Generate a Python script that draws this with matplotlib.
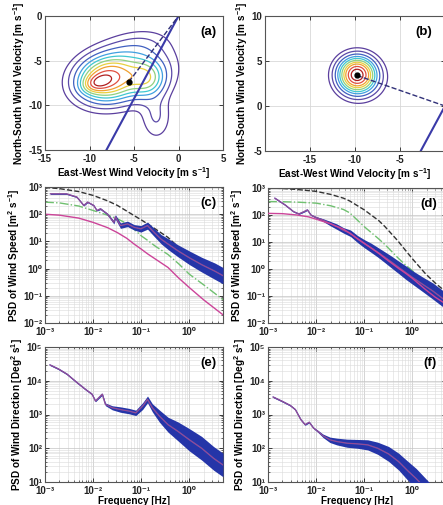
import numpy as np
import matplotlib.pyplot as plt
from matplotlib.ticker import LogLocator, NullFormatter, FuncFormatter

plt.rcParams['font.family'] = ['Liberation Sans', 'DejaVu Sans']
plt.rcParams['font.weight'] = 'bold'
plt.rcParams['axes.labelweight'] = 'bold'
plt.rcParams['axes.unicode_minus'] = False
plt.rcParams['mathtext.fontset'] = 'custom'
plt.rcParams['mathtext.rm'] = 'Liberation Sans:bold'
plt.rcParams['mathtext.bf'] = 'Liberation Sans:bold'
plt.rcParams['mathtext.it'] = 'Liberation Sans:bold'
plt.rcParams['mathtext.default'] = 'rm'

# ---------------- hodographs (a), (b) ----------------
# density blobs: centre, spread, tilt (deg), weight
a_x0 = [-9.2, -8.2, -3.5, -6.0, -2.5, -4.5]
a_y0 = [-7.5, -7.0, -7.0, -6.5, -11.3, -3.2]
a_sx = [1.0, 2.0, 1.3, 3.1, 1.1, 2.3]
a_sy = [0.6, 1.5, 1.3, 2.0, 1.7, 1.1]
a_tilt = [15, 10, 0, 15, 0, 10]
a_w = [0.25, 0.5, 0.28, 0.28, 0.09, 0.05]
a_mean = (-5.6, -7.4)

b_x0 = [-9.8, -9.3]
b_y0 = [3.5, 3.0]
b_sx = [1.25, 1.7]
b_sy = [1.2, 1.5]
b_tilt = [0, 0]
b_w = [1.0, 0.15]
b_mean = (-9.8, 3.4)

ridge_x = [-8.1, 0.0]
ridge_y = [-15.0, 0.0]

level_frac = [0.05, 0.1, 0.17, 0.25, 0.33, 0.42, 0.52, 0.62, 0.75, 0.88]
level_colors = ['#5b3f9e', '#5b4aa8', '#4060c0', '#40a0e0', '#40c8d0',
                '#90d080', '#e8d040', '#f0a030', '#e05040', '#b02020']

# ---------------- spectra (c)-(f) ----------------
c_f = [0.0013, 0.0028, 0.0046, 0.0064, 0.0077, 0.0103, 0.012, 0.0142, 0.0197, 0.027,
       0.029, 0.037, 0.052, 0.071, 0.098, 0.135, 0.188, 0.26, 0.36, 0.58, 1.0, 1.8, 3.4, 5.0]
c_psd = [560, 560, 427, 210, 278, 210, 137, 158, 102, 50,
         80, 38, 44, 33, 29, 38, 21, 12, 8, 4.5, 2.5, 1.4, 0.8, 0.55]
c_spread = [0.02, 0.02, 0.02, 0.02, 0.02, 0.02, 0.02, 0.03, 0.03, 0.06,
            0.08, 0.1, 0.1, 0.1, 0.12, 0.13, 0.15, 0.17, 0.2, 0.22, 0.25, 0.27, 0.3, 0.3]

d_f = [0.00139, 0.00227, 0.0034, 0.0044, 0.0056, 0.0066, 0.0078, 0.01, 0.0139, 0.0193,
       0.027, 0.037, 0.052, 0.072, 0.1, 0.139, 0.19, 0.27, 0.37, 0.52, 0.72, 1.0, 1.64, 2.7, 5.0]
d_psd = [420, 236, 133, 110, 133, 155, 100, 81, 65, 49,
         37, 27, 21, 13, 8.7, 6.1, 4.2, 2.7, 1.8, 1.15, 0.75, 0.49, 0.27, 0.15, 0.065]
d_spread = [0.02, 0.02, 0.02, 0.02, 0.02, 0.02, 0.02, 0.03, 0.05, 0.08,
            0.1, 0.1, 0.12, 0.13, 0.15, 0.17, 0.18, 0.2, 0.22, 0.23, 0.25, 0.25, 0.27, 0.3, 0.3]

e_f = [0.00127, 0.0019, 0.00285, 0.0046, 0.0069, 0.0095, 0.0112, 0.0155, 0.018, 0.025,
       0.037, 0.056, 0.077, 0.107, 0.135, 0.17, 0.24, 0.36, 0.58, 1.0, 1.8, 3.2, 5.0]
e_psd = [29500, 22400, 15800, 8900, 5600, 4000, 2500, 4000, 2000, 1580,
         1400, 1260, 1120, 1780, 2800, 1580, 890, 500, 316, 178, 100, 50, 32]
e_spread = [0.02, 0.02, 0.02, 0.02, 0.02, 0.02, 0.02, 0.03, 0.04, 0.06,
            0.08, 0.08, 0.08, 0.1, 0.1, 0.12, 0.18, 0.22, 0.28, 0.33, 0.35, 0.35, 0.35]

f_f = [0.00128, 0.00193, 0.0029, 0.0037, 0.0048, 0.0059, 0.0072, 0.0088, 0.0109, 0.0139,
       0.0193, 0.027, 0.044, 0.072, 0.118, 0.19, 0.32, 0.52, 0.79, 1.2, 1.9, 5.0]
f_psd = [3300, 2500, 1860, 1400, 710, 500, 590, 400, 316, 234,
         178, 158, 141, 135, 126, 100, 68, 40, 22, 12.6, 6.3, 1.4]
f_spread = [0.02, 0.02, 0.02, 0.02, 0.02, 0.02, 0.02, 0.02, 0.03, 0.05,
            0.08, 0.1, 0.12, 0.13, 0.15, 0.18, 0.22, 0.25, 0.28, 0.3, 0.3, 0.3]

# model spectra
c_mod_f = [0.001, 0.002, 0.005, 0.01, 0.02, 0.032, 0.05, 0.071, 0.1, 0.135, 0.2, 0.36, 0.6, 1.0, 2.0, 5.0]
c_black = [960, 870, 680, 490, 310, 210, 130, 89, 62, 44, 28, 14, 6, 2.6, 1.1, 0.4]
c_green = [277, 260, 200, 137, 92, 68, 45, 28, 16, 11, 6.5, 3.3, 1.5, 0.62, 0.25, 0.072]
c_mag = [100, 92, 72, 50, 32, 21, 13, 8, 5.2, 3.5, 2.2, 1.1, 0.45, 0.2, 0.07, 0.02]

d_mod_f = [0.001, 0.002, 0.004, 0.007, 0.01, 0.02, 0.037, 0.05, 0.1, 0.2, 0.27, 0.5, 0.72, 1.0, 1.9, 3.0, 5.0]
d_black = [1000, 960, 880, 800, 750, 580, 420, 330, 155, 62, 37, 11, 4.9, 2.4, 0.65, 0.3, 0.14]
d_green = [316, 310, 300, 285, 275, 220, 160, 120, 37, 13, 8, 2.6, 1.4, 0.87, 0.25, 0.12, 0.06]
d_mag = [115, 112, 100, 85, 70, 47, 30, 21, 9, 3.8, 2.5, 1.1, 0.7, 0.45, 0.17, 0.09, 0.05]

LABEL_FS = 7.2
SUP = str.maketrans('-0123456789', '⁻⁰¹²³⁴⁵⁶⁷⁸⁹')


def pow10(v, pos):
    return '10' + str(int(round(np.log10(v)))).translate(SUP)


def density(xx, yy, x0, y0, sx, sy, tilt, w):
    z = np.zeros_like(xx)
    for i in range(len(x0)):
        t = np.deg2rad(tilt[i])
        dx, dy = xx - x0[i], yy - y0[i]
        u = np.cos(t) * dx + np.sin(t) * dy
        v = -np.sin(t) * dx + np.cos(t) * dy
        z += w[i] * np.exp(-0.5 * ((u / sx[i]) ** 2 + (v / sy[i]) ** 2))
    return z / z.max()


W, H = 443, 505
fig = plt.figure(figsize=(W / 100, H / 100), dpi=100)


def add_ax(l, t, w, h):
    return fig.add_axes([l / W, 1 - (t + h) / H, w / W, h / H])


def style(ax):
    ax.tick_params(direction='in', length=3, width=0.6, top=True, right=True,
                   labelsize=7, pad=2, colors='#222222')
    ax.tick_params(axis='x', pad=3)
    ax.tick_params(which='minor', direction='in', length=1.5, width=0.4, top=True, right=True)
    for s in ax.spines.values():
        s.set_color('#555555')
        s.set_linewidth(0.8)


def hodo(ax, x0, y0, sx, sy, tilt, w, mean, xr, yr):
    xg = np.linspace(xr[0] - 1, xr[1] + 1, 300)
    yg = np.linspace(yr[0] - 1, yr[1] + 1, 300)
    xx, yy = np.meshgrid(xg, yg)
    z = density(xx, yy, x0, y0, sx, sy, tilt, w)
    ax.contour(xx, yy, z, levels=level_frac, colors=level_colors, linewidths=0.9)
    ax.plot(ridge_x, ridge_y, color='#3a3aa8', lw=1.5)
    ax.plot([mean[0], 0], [mean[1], 0], color='#303078', lw=1.0, ls='--')
    ax.plot(*mean, 'o', color='black', ms=3.5)
    ax.set_xlim(*xr)
    ax.set_ylim(*yr)
    ax.grid(True, color='#d8d8d8', lw=0.6)
    ax.set_axisbelow(True)
    style(ax)
    ax.set_xlabel('East-West Wind Velocity [m s$^{-1}$]', fontsize=LABEL_FS, labelpad=1)
    ax.set_ylabel('North-South Wind Velocity [m s$^{-1}$]', fontsize=LABEL_FS, labelpad=1)


def spec(ax, fr, psd, spread, ylim, models=()):
    fr = np.array(fr)
    psd = np.array(psd)
    sp = np.array(spread)
    for mf, mv, col, ls in models:
        ax.plot(mf, mv, color=col, ls=ls, lw=1.0, zorder=2)
    ax.fill_between(fr, psd / 10 ** sp, psd * 10 ** sp, color='#2535a8', lw=0, zorder=3)
    ax.plot(fr, psd, color='#5a55b8', lw=1.0, zorder=4)
    ax.plot(fr, psd, color='#d04070', lw=0.7, alpha=0.55, zorder=5)
    ax.set_xscale('log')
    ax.set_yscale('log')
    ax.set_xlim(1e-3, 5)
    ax.set_ylim(*ylim)
    for axis in (ax.xaxis, ax.yaxis):
        axis.set_major_locator(LogLocator(base=10, numticks=10))
        axis.set_minor_locator(LogLocator(base=10, subs=np.arange(2, 10), numticks=20))
        axis.set_major_formatter(FuncFormatter(pow10))
        axis.set_minor_formatter(NullFormatter())
    ax.grid(True, which='major', color='#c4c4c4', lw=0.5)
    ax.grid(True, which='minor', color='#dadada', lw=0.4)
    ax.set_axisbelow(True)
    style(ax)


def tag(ax, s, x):
    ax.text(x, 0.88, s, transform=ax.transAxes, ha='right', va='center',
            fontsize=9.5, fontweight='bold', zorder=10,
            bbox=dict(facecolor='white', edgecolor='none', pad=0.5))


ax_a = add_ax(45, 16, 178, 134)
hodo(ax_a, a_x0, a_y0, a_sx, a_sy, a_tilt, a_w, a_mean, (-15, 5), (-15, 0))
ax_a.set_xticks([-15, -10, -5, 0, 5])
ax_a.set_yticks([-15, -10, -5, 0])
tag(ax_a, '(a)', 0.965)

ax_b = add_ax(265, 16, 180, 135)
hodo(ax_b, b_x0, b_y0, b_sx, b_sy, b_tilt, b_w, b_mean, (-20, 0), (-5, 10))
ax_b.set_xticks([-20, -15, -10, -5, 0])
ax_b.set_xticklabels(['', '-15', '-10', '-5', ''])
ax_b.set_yticks([-5, 0, 5, 10])
tag(ax_b, '(b)', 0.93)

ax_c = add_ax(45, 187, 178, 136)
spec(ax_c, c_f, c_psd, c_spread, (1e-2, 1e3),
     [(c_mod_f, c_mag, '#cc4499', '-'), (c_mod_f, c_green, '#70c070', '-.'),
      (c_mod_f, c_black, '#333333', '--')])
ax_c.set_ylabel('PSD of Wind Speed [m$^2$ s$^{-1}$]', fontsize=LABEL_FS, labelpad=1)
tag(ax_c, '(c)', 0.965)

ax_d = add_ax(268, 188, 178, 135)
spec(ax_d, d_f, d_psd, d_spread, (1e-2, 1e3),
     [(d_mod_f, d_green, '#70c070', '-.'), (d_mod_f, d_black, '#333333', '--')])
ax_d.plot(d_mod_f, d_mag, color='#cc4499', lw=1.0, zorder=6)
ax_d.set_ylabel('PSD of Wind Speed [m$^2$ s$^{-1}$]', fontsize=LABEL_FS, labelpad=1)
tag(ax_d, '(d)', 0.95)

ax_e = add_ax(45, 347, 178, 135)
spec(ax_e, e_f, e_psd, e_spread, (1e1, 1e5))
ax_e.set_ylabel('PSD of Wind Direction [Deg$^2$ s$^1$]', fontsize=LABEL_FS, labelpad=1)
ax_e.set_xlabel('Frequency [Hz]', fontsize=LABEL_FS, labelpad=0)
tag(ax_e, '(e)', 0.965)

ax_f = add_ax(268, 347, 178, 135)
spec(ax_f, f_f, f_psd, f_spread, (1e1, 1e5))
ax_f.set_ylabel('PSD of Wind Direction [Deg$^2$ s$^1$]', fontsize=LABEL_FS, labelpad=1)
ax_f.set_xlabel('Frequency [Hz]', fontsize=LABEL_FS, labelpad=0)
tag(ax_f, '(f)', 0.95)

fig.savefig('out.png', dpi=100)
